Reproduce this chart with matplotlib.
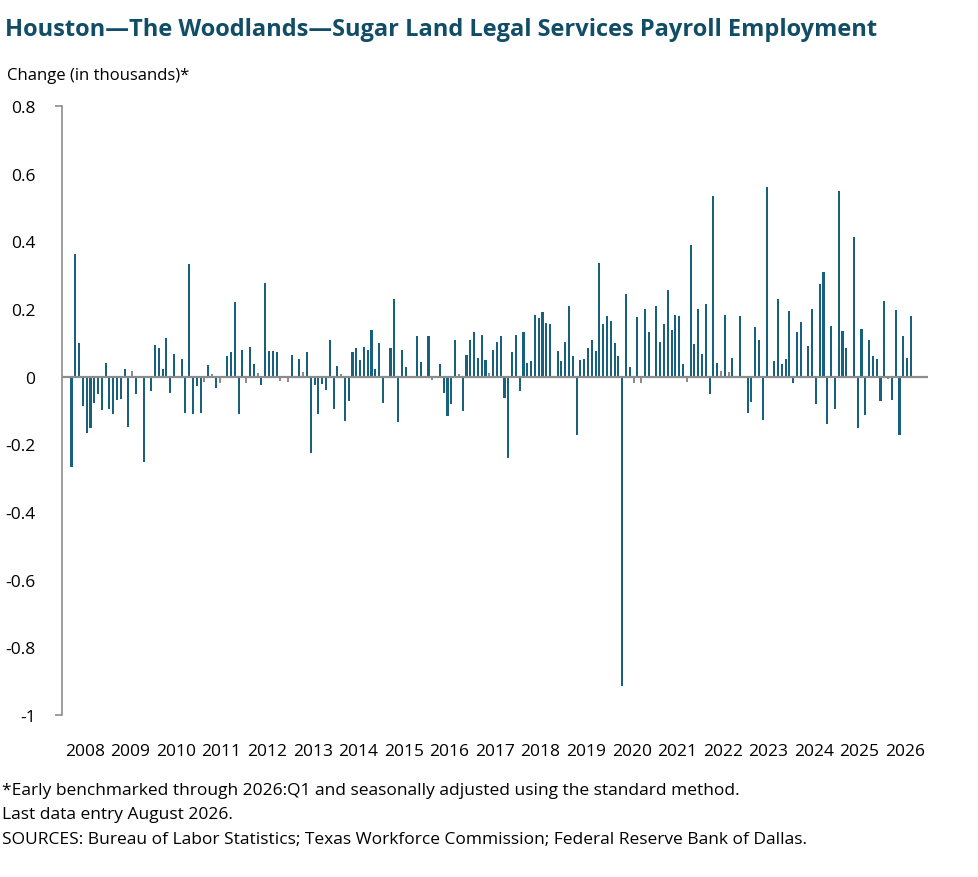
import matplotlib
matplotlib.use('Agg')
import matplotlib.pyplot as plt
import numpy as np

# monthly change, Mar 2008 - Aug 2026 (thousands)
start_year = 2008
start_month = 3
changes = [
    -0.266, 0.362, 0.100, -0.087, -0.166, -0.151, -0.079, -0.050, -0.098, 0.041,
    -0.095, -0.109, -0.069, -0.066, 0.024, -0.148, 0.018, -0.050, 0.000, -0.251,
    0.000, -0.041, 0.093, 0.084, 0.024, 0.115, -0.047, 0.068, 0.000, 0.053,
    -0.107, 0.334, -0.109, -0.027, -0.107, -0.016, 0.034, 0.007, -0.033, -0.018,
    0.000, 0.060, 0.074, 0.220, -0.109, 0.080, -0.019, 0.087, 0.038, 0.010,
    -0.024, 0.276, 0.077, 0.077, 0.074, -0.013, 0.000, -0.015, 0.065, 0.000,
    0.053, 0.015, 0.074, -0.225, -0.024, -0.109, -0.021, -0.038, 0.107, -0.095,
    0.033, 0.007, -0.130, -0.071, 0.074, 0.086, 0.050, 0.089, 0.080, 0.137,
    0.024, 0.100, -0.077, 0.000, 0.086, 0.231, -0.133, 0.080, 0.030, 0.000,
    0.000, 0.121, 0.044, 0.000, 0.121, -0.010, 0.000, 0.038, -0.047, -0.115,
    -0.080, 0.107, 0.007, -0.100, 0.065, 0.107, 0.133, 0.056, 0.124, 0.050,
    0.012, 0.080, 0.104, 0.121, -0.062, -0.240, 0.074, 0.124, -0.041, 0.133,
    0.041, 0.047, 0.183, 0.172, 0.192, 0.160, 0.157, 0.000, 0.077, 0.047,
    0.104, 0.210, 0.062, -0.172, 0.050, 0.053, 0.086, 0.107, 0.077, 0.337,
    0.157, 0.178, 0.166, 0.100, 0.062, -0.913, 0.244, 0.030, -0.018, 0.175,
    -0.018, 0.200, 0.133, 0.000, 0.210, 0.104, 0.157, 0.257, 0.139, 0.183,
    0.180, 0.038, -0.015, 0.390, 0.098, 0.200, 0.068, 0.216, -0.050, 0.533,
    0.041, 0.018, 0.183, 0.015, 0.056, 0.000, 0.178, 0.000, -0.106, -0.074,
    0.148, 0.109, -0.127, 0.562, 0.000, 0.045, 0.231, 0.038, 0.053, 0.195,
    -0.020, 0.133, 0.163, 0.000, 0.092, 0.200, -0.080, 0.275, 0.308, -0.139,
    0.151, -0.095, 0.550, 0.136, 0.086, 0.000, 0.414, -0.152, 0.142, -0.112,
    0.109, 0.062, 0.053, -0.071, 0.225, -0.006, -0.068, 0.198, -0.172, 0.121,
    0.056, 0.178,
]
years = list(range(2008, 2027))
y_ticks = [0.8, 0.6, 0.4, 0.2, 0, -0.2, -0.4, -0.6, -0.8, -1]
y_labels = ['0.8', '0.6', '0.4', '0.2', '0', '-0.2', '-0.4', '-0.6', '-0.8', '-1']

title = 'Houston\u2014The Woodlands\u2014Sugar Land Legal Services Payroll Employment'
notes = ['*Early benchmarked through 2026:Q1 and seasonally adjusted using the standard method.',
         'Last data entry August 2026.',
         'SOURCES: Bureau of Labor Statistics; Texas Workforce Commission; Federal Reserve Bank of Dallas.']

plt.rcParams['font.family'] = ['Open Sans', 'DejaVu Sans']

blue = '#17617f'
grey = '#8c8c8c'

vals = np.array(changes)
# month index counted from Jan of start_year
xpos = np.arange(len(vals)) + (start_month - 1)
colors = [grey if abs(v) < 0.02 else blue for v in vals]

fig = plt.figure(figsize=(9.79, 8.78), dpi=100)
ax = fig.add_axes([0.0633, 0.1845, 0.8846, 0.6936])

ax.bar(xpos, vals, width=0.55, color=colors, linewidth=0)
ax.axhline(0, color=grey, linewidth=1.6, zorder=3)

ax.set_xlim(-0.5, 12 * len(years) - 0.5)
ax.set_ylim(-1, 0.8)

ax.set_yticks(y_ticks)
ax.set_yticklabels(y_labels)
ax.yaxis.remove_overlapping_locs = False
ax.set_yticks([0.8, -1], minor=True)
ax.tick_params(axis='y', which='major', length=0, pad=19, labelsize=12.5)
ax.tick_params(axis='y', which='minor', length=5, width=1.2, color=grey)

ax.set_xticks([12 * k + 5.5 for k in range(len(years))])
ax.set_xticklabels([str(y) for y in years])
ax.tick_params(axis='x', length=0, pad=20, labelsize=12.5)

for s in ['top', 'right', 'bottom']:
    ax.spines[s].set_visible(False)
ax.spines['left'].set_color(grey)
ax.spines['left'].set_linewidth(1.2)

fig.text(0.005, 0.966, title, fontsize=17, fontweight='bold', color='#124d68',
         va='center', ha='left')
fig.text(0.007, 0.914, 'Change (in thousands)*', fontsize=12, va='center', ha='left')

for i, line in enumerate(notes):
    fig.text(0.002, 1 - (791 + 24.5 * i) / 878, line, fontsize=12.5, va='center', ha='left')

fig.savefig('out.png', dpi=100)
